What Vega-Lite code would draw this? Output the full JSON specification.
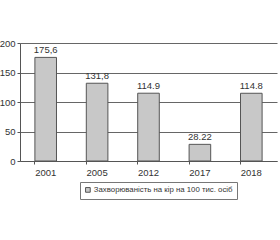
{
  "$schema": "https://vega.github.io/schema/vega-lite/v6.json",
  "autosize": {"type": "none"},
  "width": 257,
  "height": 118,
  "padding": {"left": 20, "top": 43, "right": 3, "bottom": 79},
  "background": "white",
  "config": {
    "font": "Liberation Sans",
    "view": {"stroke": null}
  },
  "data": {
    "values": [
      {"year": "2001", "value": 175.6, "label": "175,6", "series": "Захворюваність на кір на 100 тис. осіб"},
      {"year": "2005", "value": 131.8, "label": "131,8", "series": "Захворюваність на кір на 100 тис. осіб"},
      {"year": "2012", "value": 114.9, "label": "114.9", "series": "Захворюваність на кір на 100 тис. осіб"},
      {"year": "2017", "value": 28.22, "label": "28.22", "series": "Захворюваність на кір на 100 тис. осіб"},
      {"year": "2018", "value": 114.8, "label": "114.8", "series": "Захворюваність на кір на 100 тис. осіб"}
    ]
  },
  "encoding": {
    "x": {
      "field": "year", "type": "nominal", "sort": null,
      "scale": {"paddingInner": 0.58, "paddingOuter": 0.29},
      "axis": {
        "title": null, "labelAngle": 0, "bandPosition": 0,
        "domainColor": "#555", "tickColor": "#555", "tickSize": 3,
        "labelFontSize": 9.5, "labelColor": "#333", "labelPadding": 3, "grid": false
      }
    },
    "y": {
      "field": "value", "type": "quantitative",
      "scale": {"domain": [0, 200]},
      "axis": {
        "title": null, "values": [0, 50, 100, 150, 200],
        "domainColor": "#555", "tickColor": "#555", "tickSize": 3,
        "gridColor": "#666", "gridWidth": 1,
        "labelFontSize": 9.5, "labelColor": "#333", "labelPadding": 2
      }
    }
  },
  "layer": [
    {
      "mark": {"type": "bar", "stroke": "#555", "strokeWidth": 1},
      "encoding": {
        "fill": {
          "field": "series", "type": "nominal",
          "scale": {"range": ["#c8c8c8"]},
          "legend": {
            "title": null, "orient": "none", "legendX": 60, "legendY": 139,
            "symbolType": "square", "symbolSize": 22, "symbolStrokeColor": "#555", "symbolStrokeWidth": 1,
            "labelFontSize": 7.8, "labelColor": "#333", "labelLimit": 300, "labelOffset": 2,
            "strokeColor": "#777", "padding": 4, "symbolOffset": 0
          }
        }
      }
    },
    {
      "mark": {"type": "text", "dy": -7, "fontSize": 9.5, "color": "#333"},
      "encoding": {"text": {"field": "label"}}
    }
  ]
}
